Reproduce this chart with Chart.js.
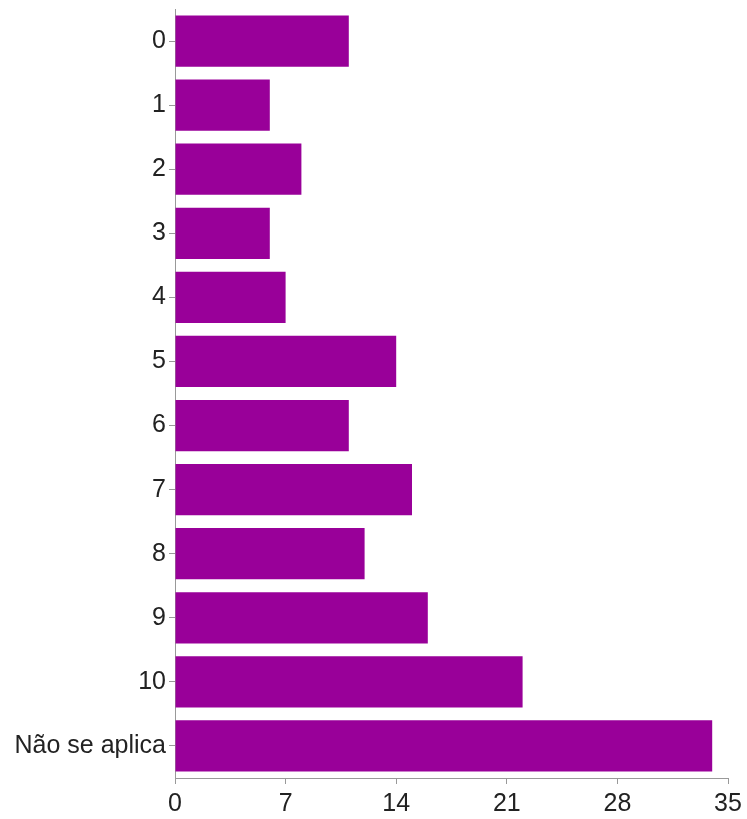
<!DOCTYPE html>
<html>
<head>
<meta charset="utf-8">
<script src="https://cdn.jsdelivr.net/npm/chart.js@4/dist/chart.umd.min.js"></script>
<style>
  html, body { margin: 0; padding: 0; background: #fff; }
  #wrap { width: 747px; height: 819px; }
</style>
</head>
<body>
<div id="wrap"><canvas id="notas" width="747" height="819"></canvas></div>
<script>
const categorias = ['0', '1', '2', '3', '4', '5', '6', '7', '8', '9', '10', 'Não se aplica'];
const respostas = [11, 6, 8, 6, 7, 14, 11, 15, 12, 16, 22, 34];
const ticksX = [0, 7, 14, 21, 28, 35];

document.addEventListener('DOMContentLoaded', () => {
    const ctx = document.getElementById('notas').getContext('2d');
    new Chart(ctx, {
        type: 'bar',
        data: {
            labels: categorias,
            datasets: [{
                data: respostas,
                backgroundColor: '#990099',
                borderWidth: 0,
                barPercentage: 0.8,
                categoryPercentage: 1
            }]
        },
        options: {
            indexAxis: 'y',
            responsive: false,
            animation: false,
            layout: { padding: { top: 9, right: 19, left: 0, bottom: 0 } },
            plugins: {
                legend: { display: false },
                tooltip: { enabled: false }
            },
            scales: {
                x: {
                    min: 0,
                    max: 35,
                    afterBuildTicks: (axis) => { axis.ticks = ticksX.map(v => ({ value: v })); },
                    afterFit: (axis) => { axis.height = 41; },
                    grid: { drawOnChartArea: false, drawTicks: true, tickLength: 6, color: '#999' },
                    border: { color: '#999', width: 1 },
                    ticks: { color: '#222', padding: 5, font: { family: 'Liberation Sans, Arial, sans-serif', size: 25 } }
                },
                y: {
                    afterFit: (axis) => {
                        axis.width = 175;
                        axis.paddingTop = 0;
                        axis.paddingBottom = 0;
                    },
                    grid: { offset: false, drawOnChartArea: false, drawTicks: true, tickLength: 6, color: '#999' },
                    border: { color: '#999', width: 1 },
                    ticks: { color: '#222', padding: 3, font: { family: 'Liberation Sans, Arial, sans-serif', size: 25 } }
                }
            }
        }
    });
});
</script>
</body>
</html>
